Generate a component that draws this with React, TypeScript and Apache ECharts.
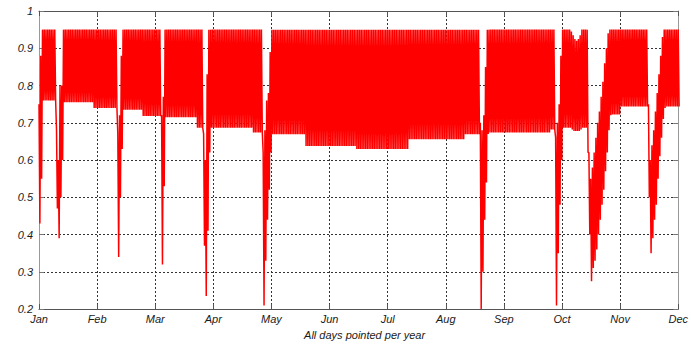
import React, { useEffect, useRef } from "react";
import * as echarts from "echarts";

// Month tick labels (equally spaced across the day range)
const months = ["Jan", "Feb", "Mar", "Apr", "May", "Jun", "Jul", "Aug", "Sep", "Oct", "Nov", "Dec"];

// Typical daily peak value
const dailyPeak = 0.95;

// Runs of ordinary days: [firstDay, lastDay, daily minimum]
const baselineRuns: [number, number, number][] = [
  [3, 10, 0.76],
  [15, 31, 0.755],
  [32, 45, 0.74],
  [49, 59, 0.735],
  [60, 70, 0.718],
  [73, 90, 0.715],
  [91, 94, 0.687],
  [99, 122, 0.687],
  [123, 128, 0.674],
  [134, 152, 0.669],
  [153, 181, 0.638],
  [182, 211, 0.63],
  [212, 243, 0.656],
  [244, 252, 0.669],
  [258, 292, 0.674],
  [293, 295, 0.682],
  [300, 304, 0.687],
  [311, 313, 0.687],
  [328, 332, 0.722],
  [333, 348, 0.744],
  [359, 366, 0.744],
];

// Special days: [day, daily maximum, daily minimum]
const specialDays: [number, number, number][] = [
  [1, 0.75, 0.43], [2, 0.88, 0.55],
  [11, 0.68, 0.47], [12, 0.6, 0.39], [13, 0.8, 0.5], [14, 0.8, 0.6],
  [46, 0.67, 0.34], [47, 0.72, 0.5], [48, 0.88, 0.63],
  [71, 0.72, 0.32], [72, 0.77, 0.53],
  [95, 0.67, 0.37], [96, 0.6, 0.235], [97, 0.83, 0.41], [98, 0.95, 0.62],
  [129, 0.62, 0.21], [130, 0.68, 0.33], [131, 0.76, 0.44], [132, 0.78, 0.52], [133, 0.89, 0.62],
  [253, 0.7, 0.2], [254, 0.68, 0.3], [255, 0.72, 0.44], [256, 0.85, 0.54], [257, 0.95, 0.67],
  [296, 0.66, 0.21], [297, 0.7, 0.35], [298, 0.75, 0.48], [299, 0.88, 0.6],
  [305, 0.945, 0.682], [306, 0.935, 0.678], [307, 0.925, 0.678], [308, 0.92, 0.678], [309, 0.925, 0.678], [310, 0.935, 0.682],
  [314, 0.95, 0.62], [315, 0.62, 0.4], [316, 0.55, 0.275], [317, 0.58, 0.31], [318, 0.62, 0.33],
  [319, 0.66, 0.36], [320, 0.7, 0.4], [321, 0.73, 0.44], [322, 0.77, 0.48], [323, 0.81, 0.52],
  [324, 0.86, 0.57], [325, 0.9, 0.62], [326, 0.94, 0.68], [327, 0.95, 0.72],
  [349, 0.75, 0.5], [350, 0.6, 0.35], [351, 0.64, 0.39], [352, 0.68, 0.44], [353, 0.73, 0.48],
  [354, 0.78, 0.55], [355, 0.83, 0.61], [356, 0.88, 0.66], [357, 0.93, 0.71], [358, 0.95, 0.74],
];

function buildSeries(): [number, number][] {
  const hi: Record<number, number> = {};
  const lo: Record<number, number> = {};
  baselineRuns.forEach(([a, b, v]) => {
    for (let d = a; d <= b; d++) {
      hi[d] = dailyPeak;
      lo[d] = v;
    }
  });
  specialDays.forEach(([d, h, l]) => {
    hi[d] = h;
    lo[d] = l;
  });
  const pts: [number, number][] = [];
  for (let d = 1; d <= 366; d++) {
    if (hi[d] === undefined) continue;
    pts.push([d, hi[d]]);
    pts.push([d + 0.5, lo[d]]);
  }
  return pts;
}

const labelFont = {
  fontFamily: "Liberation Sans, Arial, sans-serif",
  fontStyle: "italic" as const,
  fontSize: 11,
  color: "#1a1a1a",
};

export default function App() {
  const ref = useRef<HTMLDivElement>(null);
  useEffect(() => {
    if (!ref.current) return;
    const chart = echarts.init(ref.current, undefined, { renderer: "svg" });
    const dotted = { type: [2, 2] as any, color: "#333", width: 1 };
    chart.setOption({
      animation: false,
      backgroundColor: "#fff",
      grid: { left: 39, top: 11, width: 642, height: 304, containLabel: false },
      xAxis: [
        { type: "value", min: 1, max: 366, show: false },
        {
          type: "category",
          data: months,
          boundaryGap: false,
          position: "bottom",
          axisLine: { show: true, lineStyle: { color: "#555", width: 1 } },
          axisTick: { show: true, inside: true, length: 5, lineStyle: { color: "#555" } },
          axisLabel: { ...labelFont, margin: 4, interval: 0 },
          splitLine: { show: true, lineStyle: dotted },
          name: "All days pointed per year",
          nameLocation: "middle",
          nameGap: 17,
          nameTextStyle: { ...labelFont, padding: [0, 0, 0, 12] },
        },
        {
          type: "category",
          data: months,
          boundaryGap: false,
          position: "top",
          axisLine: { show: true, lineStyle: { color: "#555", width: 1 } },
          axisTick: { show: true, inside: true, length: 5, lineStyle: { color: "#555" } },
          axisLabel: { show: false },
          splitLine: { show: false },
        },
      ],
      yAxis: [
        {
          type: "value",
          min: 0.2,
          max: 1,
          interval: 0.1,
          position: "left",
          axisLine: { show: true, lineStyle: { color: "#999", width: 1 } },
          axisTick: { show: true, inside: true, length: 5, lineStyle: { color: "#777" } },
          axisLabel: { ...labelFont, margin: 6 },
          splitLine: { show: true, lineStyle: dotted },
        },
        {
          type: "value",
          min: 0.2,
          max: 1,
          interval: 0.1,
          position: "right",
          axisLine: { show: true, lineStyle: { color: "#999", width: 1 } },
          axisTick: { show: true, inside: true, length: 5, lineStyle: { color: "#777" } },
          axisLabel: { show: false },
          splitLine: { show: false },
        },
      ],
      series: [
        {
          type: "line",
          xAxisIndex: 0,
          yAxisIndex: 0,
          data: buildSeries(),
          showSymbol: false,
          symbol: "none",
          lineStyle: { color: "#ff0000", width: 1.5 },
          clip: true,
          z: 3,
        },
      ],
    });
    return () => chart.dispose();
  }, []);
  return (
    <div
      ref={ref}
      style={{ position: "fixed", left: 0, top: 0, width: 691, height: 345, background: "#fff" }}
    />
  );
}
